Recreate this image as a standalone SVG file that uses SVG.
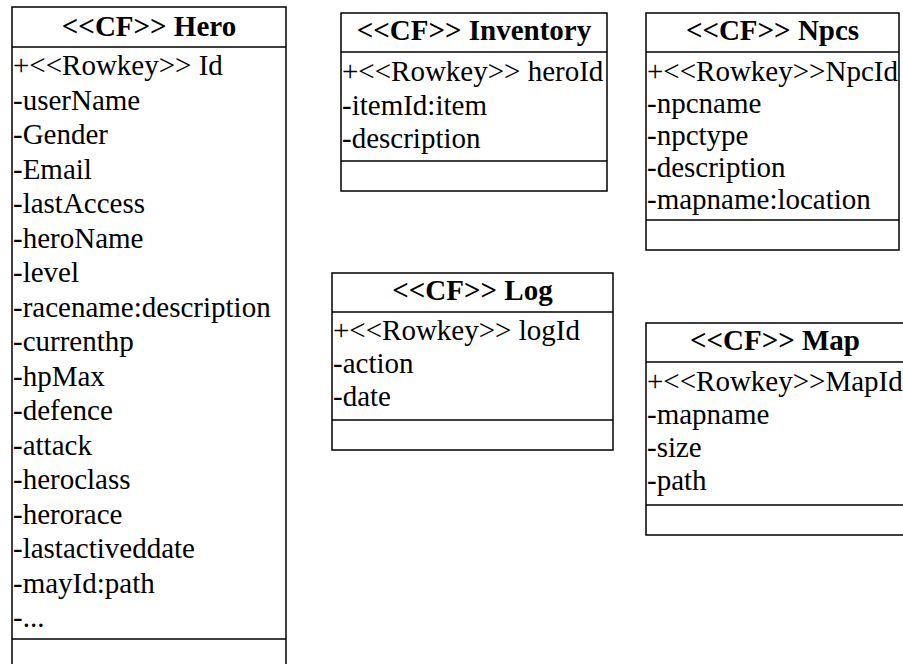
<svg xmlns="http://www.w3.org/2000/svg" width="903" height="664" viewBox="0 0 903 664">
  <style>
    .frame { fill: #ffffff; stroke: #000000; stroke-width: 1.5; }
    .rule { stroke: #000000; stroke-width: 1.5; }
    text { font-family: "Liberation Serif", "Times New Roman", serif; font-size: 29px; fill: #000000; }
    .title { font-weight: bold; text-anchor: middle; }
  </style>
  <rect width="903" height="664" fill="#ffffff"/>

  <!-- Hero column family -->
  <g id="hero">
    <rect class="frame" x="12" y="7" width="274" height="662"/>
    <line class="rule" x1="12" y1="47" x2="286" y2="47"/>
    <line class="rule" x1="12" y1="639" x2="286" y2="639"/>
    <text class="title" x="149" y="36">&lt;&lt;CF&gt;&gt; Hero</text>
    <text x="13" y="75">+&lt;&lt;Rowkey&gt;&gt; Id</text>
    <text x="13" y="109.5">-userName</text>
    <text x="13" y="144">-Gender</text>
    <text x="13" y="178.5">-Email</text>
    <text x="13" y="213">-lastAccess</text>
    <text x="13" y="247.5">-heroName</text>
    <text x="13" y="282">-level</text>
    <text x="13" y="316.5">-racename:description</text>
    <text x="13" y="351">-currenthp</text>
    <text x="13" y="385.5">-hpMax</text>
    <text x="13" y="420">-defence</text>
    <text x="13" y="454.5">-attack</text>
    <text x="13" y="489">-heroclass</text>
    <text x="13" y="523.5">-herorace</text>
    <text x="13" y="558">-lastactiveddate</text>
    <text x="13" y="592.5">-mayId:path</text>
    <text x="13" y="627">-...</text>
  </g>

  <!-- Inventory column family -->
  <g id="inventory">
    <rect class="frame" x="341" y="13" width="266" height="178"/>
    <line class="rule" x1="341" y1="52" x2="607" y2="52"/>
    <line class="rule" x1="341" y1="161" x2="607" y2="161"/>
    <text class="title" x="474" y="40">&lt;&lt;CF&gt;&gt; Inventory</text>
    <text x="342" y="81">+&lt;&lt;Rowkey&gt;&gt; heroId</text>
    <text x="342" y="114.5">-itemId:item</text>
    <text x="342" y="148">-description</text>
  </g>

  <!-- Npcs column family -->
  <g id="npcs">
    <rect class="frame" x="646" y="13" width="253" height="237"/>
    <line class="rule" x1="646" y1="52" x2="899" y2="52"/>
    <line class="rule" x1="646" y1="220" x2="899" y2="220"/>
    <text class="title" x="772.5" y="40">&lt;&lt;CF&gt;&gt; Npcs</text>
    <text x="647" y="81">+&lt;&lt;Rowkey&gt;&gt;NpcId</text>
    <text x="647" y="113">-npcname</text>
    <text x="647" y="145">-npctype</text>
    <text x="647" y="177">-description</text>
    <text x="647" y="209">-mapname:location</text>
  </g>

  <!-- Log column family -->
  <g id="log">
    <rect class="frame" x="332" y="273" width="281" height="177"/>
    <line class="rule" x1="332" y1="312" x2="613" y2="312"/>
    <line class="rule" x1="332" y1="420" x2="613" y2="420"/>
    <text class="title" x="472.5" y="300">&lt;&lt;CF&gt;&gt; Log</text>
    <text x="333" y="340">+&lt;&lt;Rowkey&gt;&gt; logId</text>
    <text x="333" y="373">-action</text>
    <text x="333" y="406">-date</text>
  </g>

  <!-- Map column family (runs past the right edge) -->
  <g id="map">
    <rect class="frame" x="646" y="323" width="264" height="212"/>
    <line class="rule" x1="646" y1="362" x2="910" y2="362"/>
    <line class="rule" x1="646" y1="505" x2="910" y2="505"/>
    <text class="title" x="775" y="350">&lt;&lt;CF&gt;&gt; Map</text>
    <text x="647" y="391">+&lt;&lt;Rowkey&gt;&gt;MapId</text>
    <text x="647" y="424">-mapname</text>
    <text x="647" y="457">-size</text>
    <text x="647" y="490">-path</text>
  </g>

  <g id="connectors"/>
</svg>
